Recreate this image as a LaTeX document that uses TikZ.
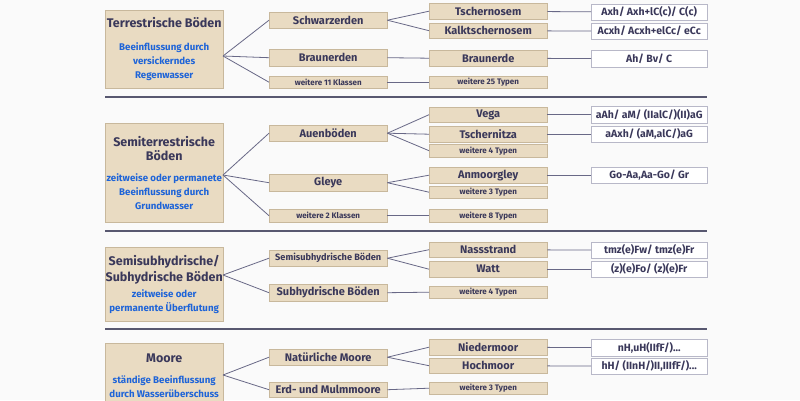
\documentclass[tikz,border=0pt]{standalone}
\usepackage{fontspec}
\setmainfont{Fira Sans}
\usepackage{tikz}
\definecolor{soilbeige}{RGB}{233,219,194}
\definecolor{soilframe}{RGB}{200,184,156}
\definecolor{soiltext}{RGB}{58,56,90}
\definecolor{soilblue}{RGB}{30,100,216}
\definecolor{linkgray}{RGB}{104,104,134}
\definecolor{divgray}{RGB}{88,88,112}
\definecolor{formframe}{RGB}{184,184,200}
\tikzset{
  classbox/.style={
    rectangle,
    draw=soilframe,
    fill=soilbeige,
    text=soiltext,
    inner sep=0pt,
    anchor=north west,
    minimum width=118pt,
    font=\bfseries\fontsize{11}{12}\selectfont
  },
  mainbox/.style={
    classbox,
    align=center,
    font=\bfseries\fontsize{12.5}{14}\selectfont
  },
  morebox/.style={
    classbox,
    font=\bfseries\fontsize{8}{9}\selectfont
  },
  formbox/.style={
    rectangle,
    draw=formframe,
    fill=white,
    text=soiltext,
    inner sep=0pt,
    anchor=north west,
    minimum width=116pt,
    font=\bfseries\fontsize{10.5}{12}\selectfont
  },
  link/.style={
    draw=linkgray,
    line width=0.8pt
  },
  divider/.style={
    draw=divgray,
    line width=1.5pt
  }
}
\newcommand{\hint}[1]{{\color{soilblue}\fontsize{9.7}{13.5}\selectfont #1}}

\begin{document}
\begin{tikzpicture}[x=1pt, y=-1pt]
    \useasboundingbox (0,0) rectangle (800,400);
    \fill[black!2] (0,0) rectangle (800,400);
    \clip (0,0) rectangle (800,400);

    \node[mainbox, minimum height=78pt] (terr) at (105,10) {Terrestrische Böden\\[9pt]\hint{Beeinflussung durch}\\\hint{versickerndes}\\\hint{Regenwasser}};
    \node[mainbox, minimum height=99pt] (semi) at (105,123) {Semiterrestrische\\Böden\\[7pt]\hint{zeitweise oder permanete}\\\hint{Beeinflussung durch}\\\hint{Grundwasser}};
    \node[mainbox, minimum height=74pt] (subh) at (105,247) {Semisubhydrische/\\[2pt]Subhydrische Böden\\[2pt]\hint{zeitweise oder}\\\hint{permanente Überflutung}};
    \node[mainbox, minimum height=66pt] (moor) at (105,343) {Moore\\[7pt]\hint{ständige Beeinflussung}\\\hint{durch Wasserüberschuss}};

    \coordinate (terrj) at (223,56);
    \coordinate (semij) at (223,175);
    \coordinate (subhj) at (223,275);
    \coordinate (moorj) at (223,375);

    \node[classbox, minimum height=16pt] (schw) at (269,12) {Schwarzerden};
    \node[classbox, minimum height=17pt] (braun) at (269,49) {Braunerden};
    \node[morebox, minimum height=12pt] (klass11) at (269,76) {weitere 11 Klassen};
    \node[classbox, minimum height=16pt] (auen) at (269,125) {Auenböden};
    \node[classbox, minimum height=17pt] (gley) at (269,174) {Gleye};
    \node[morebox, minimum height=13pt] (klass2) at (269,209) {weitere 2 Klassen};
    \node[classbox, minimum height=16pt, font=\bfseries\fontsize{9.2}{11}\selectfont] (semisub) at (269,250) {Semisubhydrische Böden};
    \node[classbox, minimum height=17pt] (subhyd) at (269,284) {Subhydrische Böden};
    \node[classbox, minimum height=16pt] (natmoor) at (269,349) {Natürliche Moore};
    \node[classbox, minimum height=15pt] (erdmoor) at (269,382) {Erd- und Mulmmoore};

    \node[classbox, minimum height=16pt] (tscher) at (429,3) {Tschernosem};
    \node[classbox, minimum height=15pt] (kalk) at (429,23) {Kalktschernosem};
    \node[classbox, minimum height=16pt] (braunerde) at (429,50) {Braunerde};
    \node[morebox, minimum height=12pt] (typ25) at (429,76) {weitere 25 Typen};
    \node[classbox, minimum height=15pt] (vega) at (429,107) {Vega};
    \node[classbox, minimum height=16pt] (tschz) at (429,126) {Tschernitza};
    \node[morebox, minimum height=13pt] (typ4a) at (429,144) {weitere 4 Typen};
    \node[classbox, minimum height=16pt] (anmoor) at (429,167) {Anmoorgley};
    \node[morebox, minimum height=12pt] (typ3a) at (429,186) {weitere 3 Typen};
    \node[morebox, minimum height=13pt] (typ8) at (429,209) {weitere 8 Typen};
    \node[classbox, minimum height=15pt] (nass) at (429,242) {Nassstrand};
    \node[classbox, minimum height=16pt] (watt) at (429,261) {Watt};
    \node[morebox, minimum height=12pt] (typ4b) at (429,286) {weitere 4 Typen};
    \node[classbox, minimum height=16pt] (nieder) at (429,339) {Niedermoor};
    \node[classbox, minimum height=15pt] (hoch) at (429,358) {Hochmoor};
    \node[morebox, minimum height=12pt] (typ3b) at (429,382) {weitere 3 Typen};

    \node[formbox, minimum height=16pt] (ftscher) at (591,4) {Axh/ Axh+lC(c)/ C(c)};
    \node[formbox, minimum height=16pt] (fkalk) at (591,23) {Acxh/ Acxh+elCc/ eCc};
    \node[formbox, minimum height=17pt] (fbraun) at (591,50) {Ah/ Bv/ C};
    \node[formbox, minimum height=17pt] (fvega) at (591,106) {aAh/ aM/ (IIalC/)(II)aG};
    \node[formbox, minimum height=16pt] (ftschz) at (591,126) {aAxh/ (aM,alC/)aG};
    \node[formbox, minimum height=16pt] (fanmoor) at (591,167) {Go-Aa,Aa-Go/ Gr};
    \node[formbox, minimum height=16pt] (fnass) at (591,242) {tmz(e)Fw/ tmz(e)Fr};
    \node[formbox, minimum height=16pt] (fwatt) at (591,261) {(z)(e)Fo/ (z)(e)Fr};
    \node[formbox, minimum height=17pt] (fnieder) at (591,339) {nH,uH(IIfF/)...};
    \node[formbox, minimum height=16pt] (fhoch) at (591,358) {hH/ (IInH/)II,IIIfF/)...};

    \draw[divider] (105,97) -- (707,97);
    \draw[divider] (105,231) -- (707,231);
    \draw[divider] (105,329) -- (707,329);

    \draw[link] (terrj) -- (schw.west);
    \draw[link] (terrj) -- (braun.west);
    \draw[link] (terrj) -- (klass11.west);
    \draw[link] (semij) -- (auen.west);
    \draw[link] (semij) -- (gley.west);
    \draw[link] (semij) -- (klass2.west);
    \draw[link] (subhj) -- (semisub.west);
    \draw[link] (subhj) -- (subhyd.west);
    \draw[link] (moorj) -- (natmoor.west);
    \draw[link] (moorj) -- (erdmoor.west);

    \draw[link] (schw.east) -- (tscher.west);
    \draw[link] (schw.east) -- (kalk.west);
    \draw[link] (braun.east) -- (braunerde.west);
    \draw[link] (klass11.east) -- (typ25.west);
    \draw[link] (auen.east) -- (vega.west);
    \draw[link] (auen.east) -- (tschz.west);
    \draw[link] (auen.east) -- (typ4a.west);
    \draw[link] (gley.east) -- (anmoor.west);
    \draw[link] (gley.east) -- (typ3a.west);
    \draw[link] (klass2.east) -- (typ8.west);
    \draw[link] (semisub.east) -- (nass.west);
    \draw[link] (semisub.east) -- (watt.west);
    \draw[link] (subhyd.east) -- (typ4b.west);
    \draw[link] (natmoor.east) -- (nieder.west);
    \draw[link] (natmoor.east) -- (hoch.west);
    \draw[link] (erdmoor.east) -- (typ3b.west);

    \draw[link] (tscher) -- (ftscher);
    \draw[link] (kalk) -- (fkalk);
    \draw[link] (braunerde) -- (fbraun);
    \draw[link] (vega) -- (fvega);
    \draw[link] (tschz) -- (ftschz);
    \draw[link] (anmoor) -- (fanmoor);
    \draw[link] (nass) -- (fnass);
    \draw[link] (watt) -- (fwatt);
    \draw[link] (nieder) -- (fnieder);
    \draw[link] (hoch) -- (fhoch);
\end{tikzpicture}
\end{document}
